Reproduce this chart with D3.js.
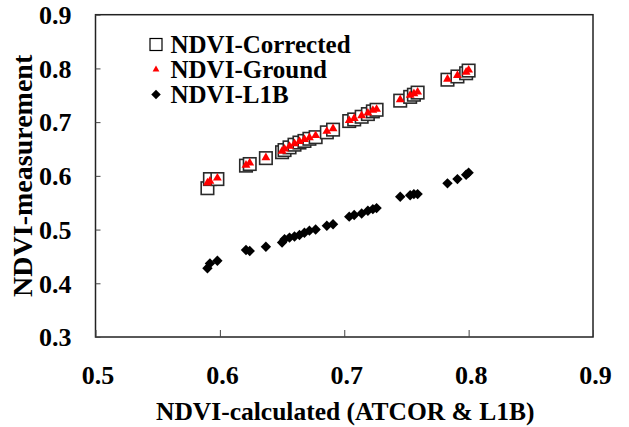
<!DOCTYPE html>
<html>
<head>
<meta charset="utf-8">
<script src="https://cdn.jsdelivr.net/npm/d3@7"></script>
<style>
  html, body { margin: 0; padding: 0; background: #fff; }
  svg { display: block; }
  text { font-family: "Liberation Serif", "Times New Roman", serif; font-weight: bold; fill: #000; }
</style>
</head>
<body>
<svg id="chart" width="629" height="427"></svg>
<script>
// ---- data ----
const xCalc = [0.590, 0.592, 0.598, 0.621, 0.624, 0.637, 0.650, 0.652, 0.656, 0.660,
               0.664, 0.668, 0.672, 0.677, 0.686, 0.691, 0.704, 0.708, 0.714, 0.719,
               0.723, 0.726, 0.745, 0.753, 0.756, 0.759, 0.783, 0.791, 0.798, 0.800];
const yCorrected = [0.577, 0.594, 0.594, 0.619, 0.622, 0.633, 0.644, 0.648, 0.653, 0.658,
                    0.662, 0.665, 0.669, 0.672, 0.681, 0.686, 0.702, 0.705, 0.710, 0.715,
                    0.720, 0.723, 0.740, 0.747, 0.751, 0.755, 0.779, 0.785, 0.791, 0.796];
const yGround = [0.587, 0.590, 0.596, 0.620, 0.624, 0.634, 0.646, 0.650, 0.655, 0.660,
                 0.664, 0.668, 0.671, 0.675, 0.683, 0.688, 0.703, 0.707, 0.712, 0.717,
                 0.722, 0.724, 0.742, 0.750, 0.753, 0.756, 0.780, 0.787, 0.793, 0.797];
const yL1B = [0.428, 0.437, 0.442, 0.462, 0.460, 0.468, 0.476, 0.482, 0.485, 0.487,
              0.490, 0.494, 0.498, 0.500, 0.507, 0.510, 0.524, 0.527, 0.530, 0.535,
              0.538, 0.540, 0.561, 0.564, 0.566, 0.566, 0.586, 0.594, 0.602, 0.606];
const xTicks = [0.5, 0.6, 0.7, 0.8, 0.9];
const yTicks = [0.3, 0.4, 0.5, 0.6, 0.7, 0.8, 0.9];
const seriesNames = ["NDVI-Corrected", "NDVI-Ground", "NDVI-L1B"];
const xTitle = "NDVI-calculated (ATCOR & L1B)";
const yTitle = "NDVI-measurement";

// ---- layout ----
const svg = d3.select("#chart");
const L = 95.5, R = 593, T = 14.7, B = 337;
const x = d3.scaleLinear().domain([0.5, 0.9]).range([L, R]);
const y = d3.scaleLinear().domain([0.3, 0.9]).range([B, T]);

// frame
svg.append("rect").attr("x", L).attr("y", T).attr("width", R - L).attr("height", B - T)
  .attr("fill", "none").attr("stroke", "#222").attr("stroke-width", 1.5);

// axes (inward ticks)
const xAxis = d3.axisBottom(x).tickValues(xTicks).tickFormat(d3.format(".1f")).tickSizeInner(-7).tickSizeOuter(0).tickPadding(30);
const gx = svg.append("g").attr("transform", `translate(0,${B})`).call(xAxis);
gx.select(".domain").remove();
gx.selectAll(".tick line").attr("stroke", "#444").attr("stroke-width", 1);
gx.selectAll(".tick text").attr("font-size", 26).attr("dy", null).attr("y", 47.3)
  .attr("dx", 2)
  .style("font-family", '"Liberation Serif", serif').style("font-weight", "bold");

const yAxis = d3.axisLeft(y).tickValues(yTicks).tickFormat(d3.format(".1f")).tickSizeInner(-5).tickSizeOuter(0).tickPadding(24);
const gy = svg.append("g").attr("transform", `translate(${L},0)`).call(yAxis);
gy.select(".domain").remove();
gy.selectAll(".tick line").attr("stroke", "#444").attr("stroke-width", 1);
gy.selectAll(".tick text").attr("font-size", 26).attr("dy", "0.34em").attr("x", -24)
  .style("font-family", '"Liberation Serif", serif').style("font-weight", "bold");

// titles
svg.append("text").attr("x", (L + R) / 2 + 1).attr("y", 419.5).attr("text-anchor", "middle")
  .attr("font-size", 25.5).text(xTitle);
svg.append("text").attr("transform", `translate(32,${(T + B) / 2}) rotate(-90)`)
  .attr("text-anchor", "middle").attr("font-size", 28).text(yTitle);

// marks
const pts = xCalc.map((v, i) => ({ x: v, c: yCorrected[i], g: yGround[i], l: yL1B[i] }));
const sq = 12.5;
svg.append("g").selectAll("rect").data(pts).join("rect")
  .attr("x", d => x(d.x) - sq / 2).attr("y", d => y(d.c) - sq / 2)
  .attr("width", sq).attr("height", sq)
  .attr("fill", "#fff").attr("stroke", "#2a2a2a").attr("stroke-width", 1.6);

const tri = d3.symbol().type(d3.symbolTriangle).size(34);
svg.append("g").selectAll("path").data(pts).join("path")
  .attr("d", tri).attr("transform", d => `translate(${x(d.x)},${y(d.g)})`)
  .attr("fill", "#ff0000");

const dia = d3.symbol().type(d3.symbolSquare).size(54);
svg.append("g").selectAll("path").data(pts).join("path")
  .attr("d", dia).attr("transform", d => `translate(${x(d.x)},${y(d.l)}) rotate(45)`)
  .attr("fill", "#000");

// legend
const lg = svg.append("g");
const lx = 156, rows = [44.5, 69.5, 94.5];
lg.append("rect").attr("x", lx - 6).attr("y", rows[0] - 6).attr("width", 12).attr("height", 12)
  .attr("fill", "#fff").attr("stroke", "#000").attr("stroke-width", 1.2);
lg.append("path").attr("d", d3.symbol().type(d3.symbolTriangle).size(20)())
  .attr("transform", `translate(${lx},${rows[1]})`).attr("fill", "#ff0000");
lg.append("path").attr("d", d3.symbol().type(d3.symbolSquare).size(45)())
  .attr("transform", `translate(${lx},${rows[2]}) rotate(45)`).attr("fill", "#000");
seriesNames.forEach((n, i) => {
  lg.append("text").attr("x", 170.5).attr("y", rows[i] + 8.7).attr("font-size", 25).text(n);
});
</script>
</body>
</html>
